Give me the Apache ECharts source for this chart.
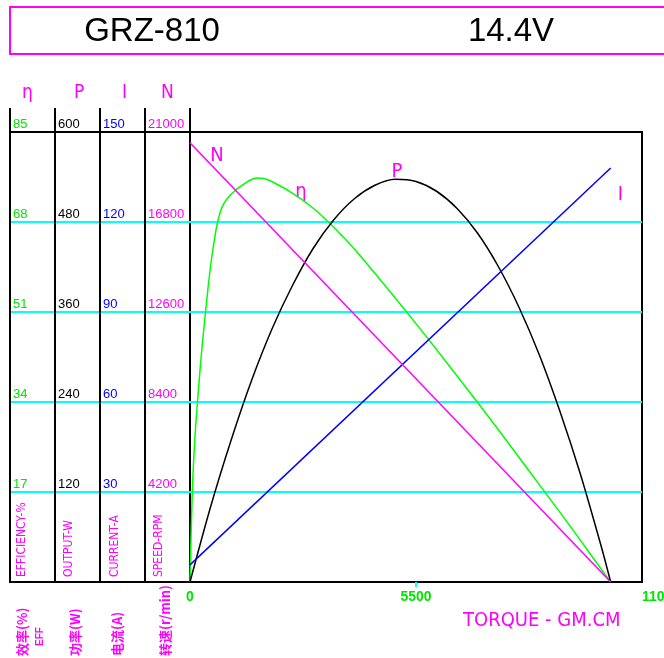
<!DOCTYPE html>
<html>
<head>
<meta charset="utf-8">
<title>GRZ-810 14.4V</title>
<script src="https://cdn.jsdelivr.net/npm/echarts@6/dist/echarts.min.js"></script>
<style>
  html, body { margin: 0; padding: 0; background: #fff; }
  #chart { width: 664px; height: 658px; }
</style>
</head>
<body>
<div id="chart"></div>
<script>
// 效率 η (%) vs 扭矩 (gm.cm)
const effTorque = [0, 56, 122, 202, 280, 365, 438, 511, 584, 650, 730, 827, 949, 1095, 1265, 1436, 1623, 1800, 2000, 2500, 3000, 3500, 4000, 4500, 5000, 5500, 6000, 6500, 7000, 7500, 8000, 8500, 9000, 9500, 10000, 10238]
const effValues = [0, 17, 27.5, 36, 43.3, 50, 55.5, 60.3, 64.2, 67.2, 69.7, 71.5, 72.8, 73.9, 74.9, 75.8, 76.3, 76.2, 75.6, 73.4, 70.6, 67, 62.9, 58.3, 53.6, 48.8, 43.9, 38.9, 33.9, 28.8, 23.6, 18.4, 13.2, 7.9, 2.5, 0]

// 功率 P (W)
const powerTorque = [0, 500, 1000, 1500, 2000, 2500, 3000, 3500, 4000, 4500, 5000, 5500, 6000, 6500, 7000, 7500, 8000, 8500, 9000, 9500, 10000, 10238]
const powerValues = [0, 100, 189, 269, 338, 396, 445, 483, 511, 529, 537, 534, 521, 498, 465, 421, 367, 303, 228, 144, 49, 0]

// 电流 I (A)
const currentTorque = [0, 10238]
const currentValues = [5.7, 138]

// 转速 N (r/min)
const speedTorque = [0, 10238]
const speedValues = [20500, 0]

// tick labels
const effTicks = [0, 17, 34, 51, 68, 85]
const powerTicks = [0, 120, 240, 360, 480, 600]
const currentTicks = [0, 30, 60, 90, 120, 150]
const speedTicks = [0, 4200, 8400, 12600, 16800, 21000]
const torqueTicks = [0, 5500, 11000]

// curve tags [torque, value]
const effTag = [2701, 73.7]
const powerTag = [5038, 546.7]
const currentTag = [10477, 129.2]
const speedTag = [657, 19880]

const MAGENTA = '#ff00ff'
const GREEN = '#00e600'
const BLUE = '#0000ff'
const CYAN = '#00ffff'
const SANS = '"Liberation Sans", Arial, sans-serif'
const NARROW = '"Liberation Sans Narrow", "DejaVu Sans Condensed", sans-serif'
const CJK = '"Noto Sans CJK SC", sans-serif'

const zip = (xs, ys) => xs.map((x, i) => [x, ys[i]])
const plain = v => String(v)

// left column axis, label sits just above each grid line
function columnAxis(name, ticks, color, offset, nameShift) {
  return {
    type: 'value',
    gridIndex: 1,
    position: 'left',
    offset,
    min: ticks[0],
    max: ticks[ticks.length - 1],
    interval: ticks[1] - ticks[0],
    name,
    nameLocation: 'end',
    nameGap: 39,
    nameTextStyle: {
      color: MAGENTA, fontSize: 19, fontFamily: NARROW,
      align: 'left', verticalAlign: 'middle', padding: [0, 0, 0, nameShift]
    },
    axisLine: { show: true, onZero: false, lineStyle: { color: '#000', width: 2 } },
    axisTick: { show: false },
    axisLabel: {
      inside: true, margin: 3, color, fontSize: 13, fontFamily: SANS, formatter: plain,
      verticalAlign: 'bottom', showMinLabel: false, padding: [0, 0, 1, 0]
    },
    splitLine: { show: false },
    z: 3
  }
}

function tagPoint(text, coord) {
  return {
    symbolSize: 0,
    label: { show: true, formatter: text, color: MAGENTA, fontSize: 20, fontFamily: NARROW },
    data: [{ coord }]
  }
}

function vText(text, x, y, font, fill) {
  return {
    type: 'text', x, y, rotation: Math.PI / 2, z: 10,
    style: { text, font, fill, align: 'left', textAlign: 'left', verticalAlign: 'middle', textVerticalAlign: 'middle' }
  }
}

function hText(text, x, y, font, fill, align) {
  return {
    type: 'text', x, y, z: 10,
    style: { text, font, fill, align, textAlign: align, verticalAlign: 'middle', textVerticalAlign: 'middle' }
  }
}

const effAxis = columnAxis('η', effTicks, GREEN, 180, 12)
effAxis.splitLine = { show: true, showMinLine: false, showMaxLine: false, lineStyle: { color: CYAN, width: 2 } }

const stubs = [10, 55, 100, 145, 190].map(x => ({
  type: 'line', z: 10,
  shape: { x1: x, y1: 108, x2: x, y2: 132 },
  style: { stroke: '#000', lineWidth: 2 }
}))

const chart = echarts.init(document.getElementById('chart'))

chart.setOption({
  backgroundColor: '#fff',
  animation: false,
  grid: [
    { left: 10, top: 132, width: 180, height: 450, show: true, borderColor: '#000', borderWidth: 2, outerBoundsMode: 'none', containLabel: false },
    { left: 190, top: 132, width: 452, height: 450, show: true, borderColor: '#000', borderWidth: 2, outerBoundsMode: 'none', containLabel: false }
  ],
  xAxis: [
    { type: 'value', gridIndex: 0, min: 0, max: 1, show: false },
    {
      type: 'value',
      gridIndex: 1,
      min: torqueTicks[0],
      max: torqueTicks[torqueTicks.length - 1],
      interval: torqueTicks[1] - torqueTicks[0],
      axisLine: { onZero: false, lineStyle: { color: '#000', width: 2 } },
      axisTick: { show: true, customValues: [5500], length: 5, lineStyle: { color: CYAN, width: 2 } },
      axisLabel: { color: GREEN, fontSize: 14, fontWeight: 'bold', fontFamily: SANS, margin: 8, alignMaxLabel: 'left', formatter: plain },
      splitLine: { show: true, showMinLine: false, showMaxLine: false, lineStyle: { color: CYAN, width: 2 } }
    }
  ],
  yAxis: [
    {
      type: 'value', gridIndex: 0, min: 0, max: 85, interval: 17,
      axisLine: { show: false }, axisTick: { show: false }, axisLabel: { show: false },
      splitLine: { show: true, showMinLine: false, showMaxLine: false, lineStyle: { color: CYAN, width: 2 } },
      z: 1
    },
    effAxis,
    columnAxis('P', powerTicks, '#000', 135, 19),
    columnAxis('I', currentTicks, BLUE, 90, 22),
    columnAxis('N', speedTicks, MAGENTA, 45, 16)
  ],
  series: [
    {
      name: 'η', type: 'line', xAxisIndex: 1, yAxisIndex: 1,
      data: zip(effTorque, effValues), smooth: 0.3,
      showSymbol: false, lineStyle: { color: '#00ff00', width: 1.5 },
      markPoint: tagPoint('η', effTag), z: 5
    },
    {
      name: 'P', type: 'line', xAxisIndex: 1, yAxisIndex: 2,
      data: zip(powerTorque, powerValues), smooth: 0.3,
      showSymbol: false, lineStyle: { color: '#000', width: 1.5 },
      markPoint: tagPoint('P', powerTag), z: 5
    },
    {
      name: 'I', type: 'line', xAxisIndex: 1, yAxisIndex: 3,
      data: zip(currentTorque, currentValues),
      showSymbol: false, lineStyle: { color: BLUE, width: 1.5 },
      markPoint: tagPoint('I', currentTag), z: 5
    },
    {
      name: 'N', type: 'line', xAxisIndex: 1, yAxisIndex: 4,
      data: zip(speedTorque, speedValues),
      showSymbol: false, lineStyle: { color: MAGENTA, width: 1.5 },
      markPoint: tagPoint('N', speedTag), z: 5
    }
  ],
  graphic: [
    {
      type: 'rect', z: 10,
      shape: { x: 10, y: 7, width: 680, height: 47 },
      style: { fill: 'none', stroke: MAGENTA, lineWidth: 2 }
    },
    hText('GRZ-810', 152, 32, '33px ' + SANS, '#000', 'center'),
    hText('14.4V', 511, 32, '33px ' + SANS, '#000', 'center'),
    ...stubs,
    vText('EFFICIENCY-%', 22, 577, '12px ' + NARROW, MAGENTA),
    vText('OUTPUT-W', 69, 577, '12px ' + NARROW, MAGENTA),
    vText('CURRENT-A', 115, 577, '12px ' + NARROW, MAGENTA),
    vText('SPEED-RPM', 159, 577, '12px ' + NARROW, MAGENTA),
    vText('效率(%)', 22, 656, 'bold 13px ' + CJK, MAGENTA),
    vText('EFF', 40, 646, 'bold 10px ' + SANS, MAGENTA),
    vText('功率(W)', 75, 656, 'bold 13px ' + CJK, MAGENTA),
    vText('电流(A)', 117, 656, 'bold 13px ' + CJK, MAGENTA),
    vText('转速(r/min)', 165, 656, 'bold 13px ' + CJK, MAGENTA),
    hText('TORQUE - GM.CM', 463, 621, '20px ' + NARROW, MAGENTA, 'left')
  ]
})
</script>
</body>
</html>
